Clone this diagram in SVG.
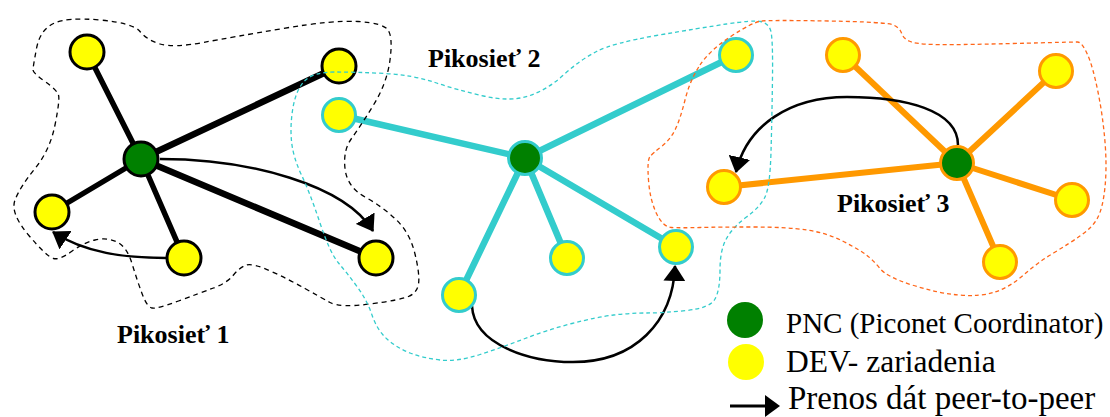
<svg xmlns="http://www.w3.org/2000/svg" width="1110" height="417" viewBox="0 0 1110 417">
  <style>
    .bg { fill: #ffffff; }
    .dev { fill: #ffff00; stroke-width: 3; }
    .pnc { fill: #008000; stroke-width: 3; }
    .k { stroke: #000000; }
    .c { stroke: #33cccc; }
    .o { stroke: #ff9900; }
    .link { fill: none; stroke-linecap: round; }
    .blk { stroke: #000000; stroke-width: 5.5; }
    .cyn { stroke: #33cccc; stroke-width: 6.5; }
    .orn { stroke: #ff9900; stroke-width: 6; }
    .p2p { fill: none; stroke: #000000; stroke-width: 2.5; marker-end: url(#ah); }
    .zone { fill: none; stroke-width: 1.3; }
    .title { font-family: 'Liberation Serif', 'DejaVu Serif', serif; font-weight: bold; font-size: 26px; fill: #000000; }
    .legend { font-family: 'Liberation Serif', 'DejaVu Serif', serif; fill: #000000; }
  </style>
  <defs>
    <marker id="ah" viewBox="0 0 16 22" refX="15" refY="11" markerWidth="16" markerHeight="22" markerUnits="userSpaceOnUse" orient="auto">
      <path d="M0,0 L16,11 L0,22 Z" fill="#000000"/>
    </marker>
  </defs>

  <rect class="bg" x="0" y="0" width="1110" height="417"/>

  <!-- links between coordinators and devices -->
  <g id="connectors">
    <g id="links-piconet1" class="link">
      <line class="blk" x1="141" y1="159" x2="87" y2="52"/>
      <line class="blk" x1="141" y1="159" x2="339" y2="66" style="stroke-width:6.5"/>
      <line class="blk" x1="141" y1="159" x2="52" y2="212"/>
      <line class="blk" x1="141" y1="159" x2="184" y2="258"/>
      <line class="blk" x1="141" y1="159" x2="376" y2="258" style="stroke-width:6.5"/>
    </g>
    <g id="links-piconet2" class="link">
      <line class="cyn" x1="525" y1="158" x2="339" y2="115"/>
      <line class="cyn" x1="525" y1="158" x2="736" y2="55"/>
      <line class="cyn" x1="525" y1="158" x2="459" y2="295"/>
      <line class="cyn" x1="525" y1="158" x2="567" y2="258"/>
      <line class="cyn" x1="525" y1="158" x2="676" y2="247"/>
    </g>
    <g id="links-piconet3" class="link">
      <line class="orn" x1="957" y1="163" x2="843" y2="55"/>
      <line class="orn" x1="957" y1="163" x2="1056" y2="71"/>
      <line class="orn" x1="957" y1="163" x2="724" y2="187"/>
      <line class="orn" x1="957" y1="163" x2="1072" y2="200"/>
      <line class="orn" x1="957" y1="163" x2="1000" y2="262"/>
    </g>
    <!-- peer-to-peer transfers -->
    <g id="transfers">
      <path class="p2p" d="M 160,159 C 250,159 345,185 373,231"/>
      <path class="p2p" d="M 166,258 C 125,258 85,253 53,232"/>
      <path class="p2p" d="M 472,306 C 474,345 530,362 573,362 C 635,362 673,322 675,266"/>
      <path class="p2p" d="M 958,145 C 958,110 905,97 847,97 C 790,97 747,125 736,172"/>
    </g>
  </g>

  <!-- piconet 1 -->
  <g id="pnc-1"><circle class="pnc k" cx="141" cy="159" r="17"/></g>
  <g id="dev-1a"><circle class="dev k" cx="87" cy="52" r="17"/></g>
  <g id="dev-1b"><circle class="dev k" cx="339" cy="66" r="17"/></g>
  <g id="dev-1c"><circle class="dev k" cx="52" cy="212" r="17"/></g>
  <g id="dev-1d"><circle class="dev k" cx="184" cy="258" r="17"/></g>
  <g id="dev-1e"><circle class="dev k" cx="376" cy="258" r="17"/></g>

  <!-- piconet 2 -->
  <g id="pnc-2"><circle class="pnc c" cx="525" cy="158" r="16.5"/></g>
  <g id="dev-2a"><circle class="dev c" cx="339" cy="115" r="16.5"/></g>
  <g id="dev-2b"><circle class="dev c" cx="736" cy="55" r="16.5"/></g>
  <g id="dev-2c"><circle class="dev c" cx="459" cy="295" r="16.5"/></g>
  <g id="dev-2d"><circle class="dev c" cx="567" cy="258" r="16.5"/></g>
  <g id="dev-2e"><circle class="dev c" cx="676" cy="247" r="16.5"/></g>

  <!-- piconet 3 -->
  <g id="pnc-3"><circle class="pnc o" cx="957" cy="163" r="16.5"/></g>
  <g id="dev-3a"><circle class="dev o" cx="843" cy="55" r="16.5"/></g>
  <g id="dev-3b"><circle class="dev o" cx="1056" cy="71" r="16.5"/></g>
  <g id="dev-3c"><circle class="dev o" cx="724" cy="187" r="16.5"/></g>
  <g id="dev-3d"><circle class="dev o" cx="1072" cy="200" r="16.5"/></g>
  <g id="dev-3e"><circle class="dev o" cx="1000" cy="262" r="16.5"/></g>

  <!-- dashed coverage boundaries -->
  <g id="zones">
    <path id="zone-1" class="zone" stroke="#000000" stroke-dasharray="5 4" d="M 36.5,48.5 Q 40,30 53.5,23.5 Q 67,17 100,20 Q 133,23 140,31.5 Q 147,40 160,44 Q 173,48 203,42.5 Q 233,37 283,28.5 Q 333,20 358,21.5 Q 383,23 388,30 Q 393,37 390,60 Q 387,83 373.5,105 Q 360,127 351.5,138.5 Q 343,150 345,168.5 Q 347,187 365,197 Q 383,207 396.5,220 Q 410,233 415,254 Q 420,275 418.5,284 Q 417,293 408.5,296.5 Q 400,300 370,304 Q 340,308 330,302.5 Q 320,297 305,288.5 Q 290,280 271.5,271.5 Q 253,263 246.5,265 Q 240,267 233.5,275 Q 227,283 213.5,288 Q 200,293 178.5,301 Q 157,309 152,308 Q 147,307 142,293.5 Q 137,280 132,263.5 Q 127,247 117,242 Q 107,237 95,240 Q 83,243 71.5,251.5 Q 60,260 53.5,258.5 Q 47,257 28.5,235 Q 10,213 15,200 Q 20,187 35,168.5 Q 50,150 55,125 Q 60,100 58.5,95 Q 57,90 45,81.5 Q 33,73 33,70 Q 33,67 36.5,48.5 Z"/>
    <path id="zone-2" class="zone" stroke="#33cccc" stroke-dasharray="4 3" d="M 304.5,81 Q 313,72 335,72 Q 357,72 385,73.5 Q 413,75 435,82.5 Q 457,90 483.5,96 Q 510,102 528.5,96 Q 547,90 563.5,75 Q 580,60 596.5,51.5 Q 613,43 656.5,35.5 Q 700,28 726.5,24 Q 753,20 760.5,21.5 Q 768,23 770.5,30 Q 773,37 772.5,77 Q 772,117 771,152 Q 770,187 765,197 Q 760,207 746.5,217 Q 733,227 726.5,238.5 Q 720,250 720,270 Q 720,290 715,299 Q 710,308 686.5,310.5 Q 663,313 646.5,313 Q 630,313 613.5,315 Q 597,317 572,323.5 Q 547,330 525,338.5 Q 503,347 480,354.5 Q 457,362 440,360 Q 423,358 410,353 Q 397,348 387,339 Q 377,330 372,315 Q 367,300 357,286.5 Q 347,273 338.5,263 Q 330,253 320,223 Q 310,193 301.5,175 Q 293,157 291.5,141 Q 290,125 293,107.5 Q 296,90 304.5,81 Z"/>
    <path id="zone-3" class="zone" stroke="#ff6619" stroke-dasharray="4 3" d="M 700,65 Q 710,50 731.5,36 Q 753,22 761.5,21 Q 770,20 828.5,21 Q 887,22 893.5,25 Q 900,28 901.5,33 Q 903,38 909,41 Q 915,44 934,44.5 Q 953,45 1013,43.5 Q 1073,42 1077.5,42 Q 1082,42 1087.5,54.5 Q 1093,67 1098,92 Q 1103,117 1105,142 Q 1107,167 1105,187 Q 1103,207 1098,217 Q 1093,227 1081.5,235 Q 1070,243 1053.5,253 Q 1037,263 1023.5,275 Q 1010,287 995,292 Q 980,297 958.5,295 Q 937,293 912,285 Q 887,277 880,268.5 Q 873,260 866.5,255 Q 860,250 843.5,241.5 Q 827,233 807,230 Q 787,227 753.5,227 Q 720,227 700,227.5 Q 680,228 671.5,227.5 Q 663,227 656.5,213.5 Q 650,200 648.5,180 Q 647,160 650,156.5 Q 653,153 661.5,146.5 Q 670,140 675,130 Q 680,120 685,100 Q 690,80 700,65 Z"/>
  </g>

  <!-- piconet labels -->
  <g id="labels">
    <text class="title" x="117" y="343">Pikosieť 1</text>
    <text class="title" x="428" y="67">Pikosieť 2</text>
    <text class="title" x="837" y="212">Pikosieť 3</text>
  </g>

  <!-- legend -->
  <g id="legend">
    <circle cx="745" cy="320" r="18" fill="#008000"/>
    <circle cx="746" cy="362" r="18" fill="#ffff00"/>
    <line x1="730" y1="406" x2="768" y2="406" stroke="#000000" stroke-width="3"/>
    <polygon points="765,395 780,406 765,417" fill="#000000"/>
    <text class="legend" x="786" y="333" font-size="29">PNC (Piconet Coordinator)</text>
    <text class="legend" x="786" y="372" font-size="31.5">DEV- zariadenia</text>
    <text class="legend" x="788" y="409" font-size="33">Prenos dát peer-to-peer</text>
  </g>
</svg>
